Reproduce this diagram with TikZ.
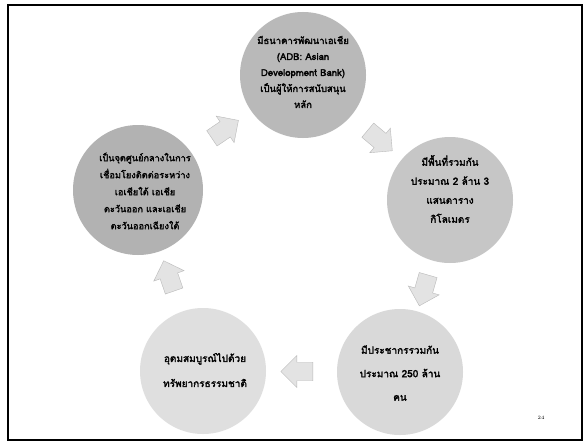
\documentclass[tikz,border=0pt]{standalone}
\usepackage{fontspec}
\newfontfamily\thaib[Script=Thai, FakeBold=2.2]{Loma}
\usetikzlibrary{shapes.arrows}
\lineskiplimit=-100pt
\lineskip=0pt
\tikzset{
  bubble/.style={circle, minimum size=126pt, inner sep=0pt},
  bubtext/.style={align=center, text=black, inner sep=0pt},
  cyclearrow/.style={single arrow, fill=gray!22, draw=gray!55, line width=0.4pt,
    minimum height=32pt, minimum width=32pt, single arrow head extend=6pt,
    inner xsep=0pt, inner ysep=8pt},
  pagenum/.style={font=\fontsize{5}{6}\selectfont}
}
\begin{document}
\begin{tikzpicture}[x=1pt,y=-1pt]
\useasboundingbox (0,0) rectangle (585,444);
\fill[white] (0,0) rectangle (585,444);
\draw[line width=1.3pt] (8,5) rectangle (582,440);

\node[bubble, fill=gray!55] (top) at (303,75) {};
\node[bubble, fill=gray!45] (right) at (450,200) {};
\node[bubble, fill=gray!30] (bright) at (400,372) {};
\node[bubble, fill=gray!25] (bleft) at (203,371) {};
\node[bubble, fill=gray!60, minimum size=130pt] (left) at (138,190) {};

\node[bubtext, font=\thaib\fontsize{9.5}{16}\selectfont] (topT) at (303,72)
  {มีธนาคารพัฒนาเอเชีย\\(ADB: Asian\\Development Bank)\\เป็นผู้ให้การสนับสนุน\\หลัก};
\node[bubtext, font=\thaib\fontsize{10}{19}\selectfont] (rightT) at (450,189)
  {มีพื้นที่รวมกัน\\ประมาณ 2 ล้าน 3\\แสนตาราง\\กิโลเมตร};
\node[bubtext, font=\thaib\fontsize{10}{23.5}\selectfont] (brightT) at (400,373)
  {มีประชากรรวมกัน\\ประมาณ 250 ล้าน\\คน};
\node[bubtext, font=\thaib\fontsize{10}{25}\selectfont] (bleftT) at (205,370)
  {อุดมสมบูรณ์ไปด้วย\\ทรัพยากรธรรมชาติ};
\node[bubtext, font=\thaib\fontsize{9.2}{17}\selectfont] (leftT) at (145,191)
  {เป็นจุดศูนย์กลางในการ\\เชื่อมโยงติดต่อระหว่าง\\เอเชียใต้ เอเชีย\\ตะวันออก และเอเชีย\\ตะวันออกเฉียงใต้};

\path (top) -- (right) node[midway, cyclearrow, rotate=-40] (a1) {};
\path (right) -- (bright) node[midway, cyclearrow, rotate=-106] (a2) {};
\path (bright) -- (bleft) node[midway, cyclearrow, rotate=180] (a3) {};
\path (bleft) -- (left) node[pos=0.52, cyclearrow, rotate=109] (a4) {};
\path (left) -- (top) node[midway, cyclearrow, rotate=34] (a5) {};

\node[pagenum] (pn) at (541,418) {24};
\end{tikzpicture}
\end{document}
